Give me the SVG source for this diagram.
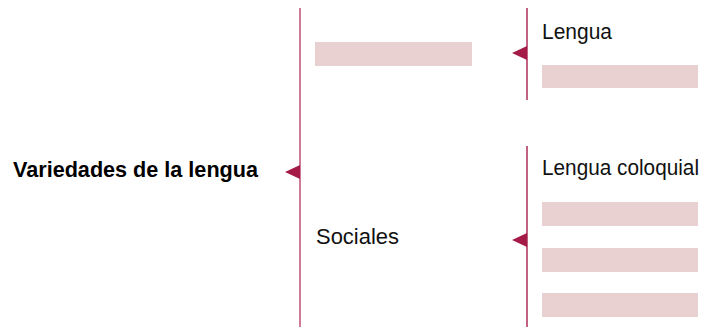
<svg xmlns="http://www.w3.org/2000/svg" width="713" height="327" viewBox="0 0 713 327">
<style>
.t{font-family:"Liberation Sans",Arial,sans-serif;font-size:22px;fill:#111}
.b{font-weight:bold;fill:#000}
.bar{fill:#e8d1d0}
.ln{stroke:#c25a80;stroke-width:1.6;fill:none}
.ln2{stroke:#b23a62;stroke-width:1.6;fill:none}
.ar{fill:#a51b48}
</style>
<rect width="713" height="327" fill="#fff"/>
<g id="connectors">
<line class="ln" x1="300" y1="8" x2="300" y2="327"/>
<polygon class="ar" points="285,172 300,165 300,179"/>
<line class="ln2" x1="527" y1="8" x2="527" y2="100"/>
<polygon class="ar" points="512,53 527,46 527,60"/>
<line class="ln2" x1="527" y1="146" x2="527" y2="327"/>
<polygon class="ar" points="512,240 527,233 527,247"/>
</g>
<g id="root"><text class="t b" x="13" y="177" textLength="245" lengthAdjust="spacingAndGlyphs">Variedades de la lengua</text></g>
<g id="top"><rect class="bar" x="315" y="42" width="157" height="24"/></g>
<g id="sociales"><text class="t" x="316" y="244" textLength="83" lengthAdjust="spacingAndGlyphs">Sociales</text></g>
<g id="lengua"><text class="t" x="542" y="39" textLength="70" lengthAdjust="spacingAndGlyphs">Lengua</text><rect class="bar" x="542" y="65" width="156" height="23"/></g>
<g id="coloquial"><text class="t" x="542" y="175" textLength="157" lengthAdjust="spacingAndGlyphs">Lengua coloquial</text>
<rect class="bar" x="542" y="202" width="156" height="24"/>
<rect class="bar" x="542" y="248" width="156" height="24"/>
<rect class="bar" x="542" y="293" width="156" height="24"/></g>
</svg>
